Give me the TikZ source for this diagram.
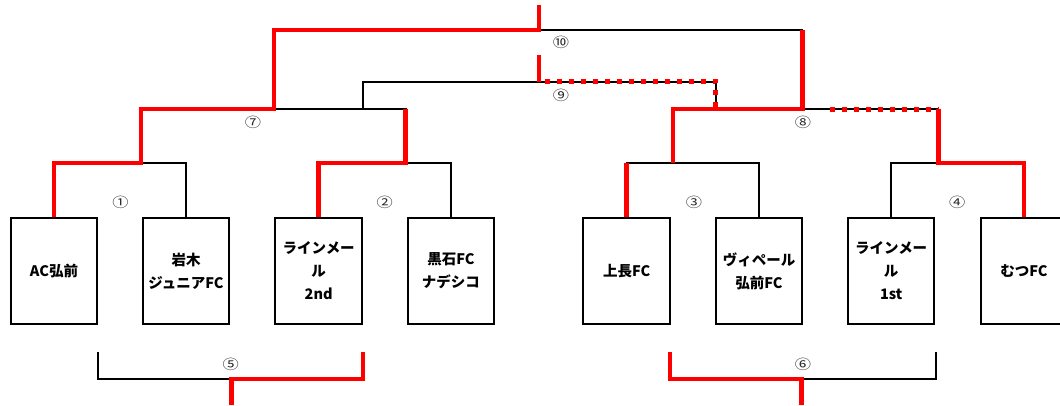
\documentclass[tikz,border=0pt]{standalone}
\usepackage{fontspec}
\setmainfont{Noto Sans CJK JP}
\newfontfamily\numfont{Noto Sans CJK JP}[FakeStretch=1.2]
\begin{document}
\begin{tikzpicture}[x=1pt,y=-1pt,
  team/.style={draw,line width=2pt,minimum width=86.5pt,minimum height=106pt,inner sep=0pt,align=center,font=\bfseries\fontsize{14.5}{23}\selectfont},
  num/.style={inner sep=0pt,font=\numfont\fontsize{13.5}{13.5}\selectfont,text=black!85},
  bline/.style={line width=1.8pt},
  win/.style={red,line width=4.5pt},
  maybe/.style={red,line width=5pt,dash pattern=on 5pt off 7pt}]
  \useasboundingbox (0,0) rectangle (1060,405);
  \clip (0,0) rectangle (1060,405);
  % teams
  \foreach \n/\x/\name in {1/54/{AC弘前}, 2/186/{岩木\\ジュニアFC}, 3/318.7/{ラインメー\\ル\\2nd}, 4/450.9/{黒石FC\\ナデシコ},
                           5/626.7/{上長FC}, 6/759/{ヴィペール\\弘前FC}, 7/891.2/{ラインメー\\ル\\1st}, 8/1024/{むつFC}} {%
    \node[team] (t\n) at (\x,271) {\name};
  }
  % match numbers
  \foreach \n/\x/\y/\lab in {1/120.5/202/①, 2/384.6/202/②, 3/693.9/202/③, 4/957.3/202/④, 5/230.7/364/⑤,
                             6/803/364/⑥, 7/253/122/⑦, 8/803/122/⑧, 9/561/95/⑨, 10/561/42/⑩} {%
    \node[num] (n\n) at (\x,\y) {\lab};
  }
  % junctions
  \coordinate (j1) at (141,163);
  \coordinate (j2) at (405.6,163);
  \coordinate (j3) at (673,163);
  \coordinate (j4) at (938.4,163);
  \coordinate (j7) at (274,109);
  \coordinate (j8) at (802.4,109);
  \coordinate (j9) at (539,82);
  \coordinate (j10) at (539,30);
  \coordinate (win) at (539,5);
  \coordinate (s9) at (539,55);
  \coordinate (c9l) at (362.6,109);
  \coordinate (c9r) at (715.7,109);
  \coordinate (d9) at (545,81);
  \coordinate (d8) at (829.9,109);
  \coordinate (b5l) at (98,352);
  \coordinate (b5r) at (363,352);
  \coordinate (j5) at (231.7,379);
  \coordinate (w5) at (231.7,405);
  \coordinate (b6l) at (669.8,352);
  \coordinate (b6r) at (935.6,352);
  \coordinate (j6) at (801.3,379);
  \coordinate (w6) at (801.3,405);
  % bracket
  \draw[bline] (t1.north) |- (j1) -| (t2.north);
  \draw[bline] (t3.north) |- (j2) -| (t4.north);
  \draw[bline] (t5.north) |- (j3) -| (t6.north);
  \draw[bline] (t7.north) |- (j4) -| (t8.north);
  \draw[bline] (j1) |- (j7) -| (j2);
  \draw[bline] (j3) |- (j8) -| (j4);
  \draw[bline] (j7) |- (j10) -| (j8);
  \draw[bline] (c9l) |- (j9) -| (c9r);
  \draw[bline] (b5l) |- (j5) -| (b5r);
  \draw[bline] (b6l) |- (j6) -| (b6r);
  % results
  \draw[win] (t1.north) |- (j1) |- (j7) |- (j10) -- (win);
  \draw[win] (t3.north) |- (j2) -- (j2 |- j7);
  \draw[win] (t5.north) -- (t5.north |- j3);
  \draw[win] (j3) |- (j8) -- (j8 |- j10);
  \draw[win] (t8.north) |- (j4) -- (j4 |- j8);
  \draw[win] (s9) -- (j9);
  \draw[maybe] (d9) -| (c9r);
  \draw[maybe] (d8) -- (j4 |- j8);
  \draw[win] (b5r) |- (j5) -- (w5);
  \draw[win] (b6l) |- (j6) -- (w6);
\end{tikzpicture}
\end{document}
